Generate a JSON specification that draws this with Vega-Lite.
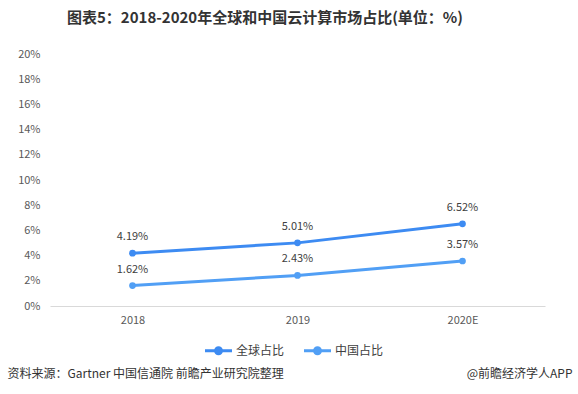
{
  "$schema": "https://vega.github.io/schema/vega-lite/v6.json",
  "width": 495,
  "height": 252,
  "autosize": {"type": "none"},
  "padding": {"left": 50, "top": 54, "right": 33, "bottom": 88},
  "background": "#ffffff",
  "config": {
    "view": {"stroke": null},
    "font": "Noto Sans CJK SC",
    "axis": {"labelFont": "Noto Sans CJK SC", "titleFont": "Noto Sans CJK SC"},
    "legend": {"labelFont": "Noto Sans CJK SC"}
  },
  "title": {
    "text": "图表5：2018-2020年全球和中国云计算市场占比(单位：%)",
    "fontSize": 15,
    "fontWeight": "bold",
    "color": "#333333",
    "anchor": "start",
    "dx": 60,
    "offset": 22,
    "font": "Noto Sans CJK SC"
  },
  "data": {
    "values": [
      {"year": "2018", "series": "全球占比", "value": 4.19},
      {"year": "2019", "series": "全球占比", "value": 5.01},
      {"year": "2020E", "series": "全球占比", "value": 6.52},
      {"year": "2018", "series": "中国占比", "value": 1.62},
      {"year": "2019", "series": "中国占比", "value": 2.43},
      {"year": "2020E", "series": "中国占比", "value": 3.57}
    ]
  },
  "transform": [
    {"calculate": "format(datum.value, '.2f') + '%'", "as": "label"}
  ],
  "encoding": {
    "y": {
      "field": "value",
      "type": "quantitative",
      "scale": {"domain": [0, 20]},
      "axis": {
        "title": null,
        "values": [0, 2, 4, 6, 8, 10, 12, 14, 16, 18, 20],
        "labelExpr": "datum.value + '%'",
        "labelFontSize": 11,
        "labelColor": "#595959",
        "labelPadding": 10,
        "grid": false,
        "domain": false,
        "ticks": false
      }
    }
  },
  "layer": [
    {
      "mark": {"type": "line", "strokeWidth": 3, "point": {"filled": true, "size": 45}},
      "encoding": {
        "x": {
          "field": "year",
          "type": "ordinal",
          "scale": {"type": "point", "padding": 0.5},
          "axis": {
            "orient": "bottom",
            "title": "资料来源：Gartner 中国信通院 前瞻产业研究院整理",
            "titleAnchor": "start",
            "titleX": -43,
            "titleY": 62,
            "titleFontSize": 12,
            "titleFontWeight": "normal",
            "titleColor": "#333333",
            "labelAngle": 0,
            "labelFontSize": 11,
            "labelColor": "#595959",
            "labelPadding": 8,
            "ticks": false,
            "domainColor": "#d9d9d9",
            "domainWidth": 1
          }
        },
        "color": {
          "field": "series",
          "type": "nominal",
          "sort": ["全球占比", "中国占比"],
          "scale": {"domain": ["全球占比", "中国占比"], "range": ["#3d8bf2", "#519ff5"]},
          "legend": {
            "title": null,
            "orient": "none",
            "direction": "horizontal",
            "legendX": 153,
            "legendY": 281,
            "labelFontSize": 12,
            "labelColor": "#404040",
            "symbolType": "M-1,0H1M-0.22,0A0.22,0.22 0 1,0 0.22,0A0.22,0.22 0 1,0 -0.22,0Z",
            "symbolStrokeWidth": 3,
            "symbolSize": 730,
            "columnPadding": 12,
            "labelOffset": 2
          }
        }
      }
    },
    {
      "mark": {"type": "text", "dy": -16, "fontSize": 11, "color": "#404040"},
      "encoding": {
        "x": {"field": "year", "type": "ordinal", "scale": {"type": "point", "padding": 0.5}, "axis": null},
        "text": {"field": "label"}
      }
    },
    {
      "mark": {"type": "text", "opacity": 0},
      "encoding": {
        "text": {"field": "label"},
        "x": {
          "field": "year",
          "type": "ordinal",
          "scale": {"type": "point", "padding": 0.5},
          "axis": {
            "orient": "bottom",
            "title": "@前瞻经济学人APP",
            "titleAnchor": "end",
            "titleX": 522,
            "titleY": 62,
            "titleFontSize": 12,
            "titleFontWeight": "normal",
            "titleColor": "#333333",
            "labels": false,
            "ticks": false,
            "domain": false
          }
        }
      }
    }
  ],
  "resolve": {"axis": {"x": "independent"}, "scale": {"x": "shared"}}
}
